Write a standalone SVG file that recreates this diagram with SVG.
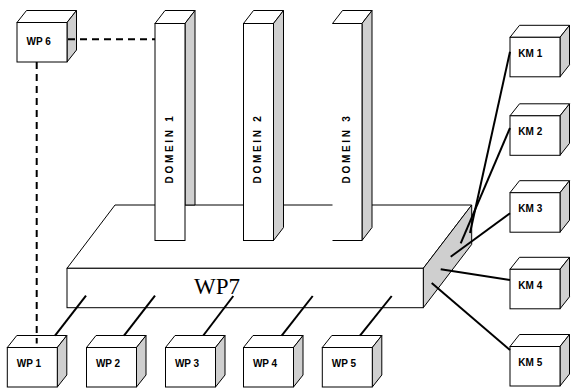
<svg xmlns="http://www.w3.org/2000/svg" xmlns:xlink="http://www.w3.org/1999/xlink" width="571" height="389" viewBox="0 0 571 389">
<style>
.f{fill:#fff;stroke:#000;stroke-width:1;stroke-linejoin:miter}
.g{fill:#cfcfcf;stroke:#000;stroke-width:1}
.nf{fill:#fff;stroke:none}
.ln{fill:none;stroke:#000;stroke-width:1}
.lab{font-family:"Liberation Sans",Arial,sans-serif;font-weight:bold;font-size:10px;fill:#000}
.dom{font-family:"Liberation Sans",Arial,sans-serif;font-weight:bold;font-size:10px;letter-spacing:2.7px;fill:#000}
.big{font-family:"Liberation Serif","Times New Roman",serif;font-size:23px;fill:#000}
.c{fill:none;stroke:#000;stroke-width:2}
.d{fill:none;stroke:#000;stroke-width:2;stroke-dasharray:7 5}
</style>
<defs>
<g id="box">
<polygon class="f" points="0,0 9.5,-12 59.5,-12 50,0"/>
<polygon class="g" points="50,0 59.5,-12 59.5,27.5 50,39.5"/>
<rect class="f" x="0" y="0" width="50" height="39.5"/>
</g>
</defs>
<rect width="571" height="389" fill="#fff"/>

<g id="wp7">
<polygon class="f" points="67,268.3 115,205 471.7,205 423.3,268.3"/>
<polygon class="g" points="423.3,268.3 471.7,205 471.7,244.4 423.3,307.7"/>
<rect class="f" x="67" y="268.3" width="356.3" height="39.4"/>
<text class="big" x="194" y="294">WP7</text>
</g>

<g id="domein1">
<polygon class="f" points="155,23.5 165,10.5 195,10.5 185,23.5"/>
<polygon class="g" points="185,23.5 195,10.5 195,205 185,205"/>
<rect class="f" x="155" y="23.5" width="30" height="217"/>
<text class="dom" transform="translate(173,183.5) rotate(-90)">DOMEIN 1</text>
</g>

<g id="domein2">
<polygon class="f" points="243.5,23.5 253.5,10.5 283.5,10.5 273.5,23.5"/>
<polygon class="g" points="273.5,23.5 283.5,10.5 283.5,227.5 273.5,240.5"/>
<rect class="f" x="243.5" y="23.5" width="30" height="217"/>
<text class="dom" transform="translate(261,183.5) rotate(-90)">DOMEIN 2</text>
</g>

<g id="domein3">
<polygon class="f" points="332.5,23.5 342.5,10.5 372,10.5 362,23.5"/>
<polygon class="g" points="362,23.5 372,10.5 372,227.5 362,240.5"/>
<rect class="nf" x="332.5" y="23.5" width="29.5" height="217"/>
<polyline class="ln" points="332.5,240.5 362,240.5 362,23.5 332.5,23.5"/>
<text class="dom" transform="translate(350,183.5) rotate(-90)">DOMEIN 3</text>
</g>

<g id="wp6"><use xlink:href="#box" href="#box" x="17" y="22.5"/><text class="lab" x="26.5" y="45">WP 6</text></g>

<g id="wp1"><use xlink:href="#box" href="#box" x="7.3" y="347.5"/><text class="lab" x="16.7" y="367.3">WP 1</text></g>
<g id="wp2"><use xlink:href="#box" href="#box" x="86.5" y="347.5"/><text class="lab" x="95.9" y="367.3">WP 2</text></g>
<g id="wp3"><use xlink:href="#box" href="#box" x="165.5" y="347.5"/><text class="lab" x="174.9" y="367.3">WP 3</text></g>
<g id="wp4"><use xlink:href="#box" href="#box" x="243.5" y="347.5"/><text class="lab" x="252.9" y="367.3">WP 4</text></g>
<g id="wp5"><use xlink:href="#box" href="#box" x="322.3" y="347.5"/><text class="lab" x="331.7" y="367.3">WP 5</text></g>

<g id="km1"><use xlink:href="#box" href="#box" x="510" y="37.3"/><text class="lab" x="518.3" y="56.7">KM 1</text></g>
<g id="km2"><use xlink:href="#box" href="#box" x="510" y="115.8"/><text class="lab" x="518.3" y="135.2">KM 2</text></g>
<g id="km3"><use xlink:href="#box" href="#box" x="510" y="192.7"/><text class="lab" x="518.3" y="212.1">KM 3</text></g>
<g id="km4"><use xlink:href="#box" href="#box" x="510" y="269.3"/><text class="lab" x="518.3" y="288.7">KM 4</text></g>
<g id="km5"><use xlink:href="#box" href="#box" x="510" y="346.5"/><text class="lab" x="518.3" y="365.9">KM 5</text></g>

<g id="connectors">
<line class="d" x1="68" y1="39.3" x2="155" y2="39.3"/>
<line class="d" x1="36.7" y1="62" x2="36.7" y2="343.5"/>
<line class="c" x1="55" y1="335.7" x2="86" y2="295.7"/>
<line class="c" x1="124" y1="335.7" x2="155" y2="295.7"/>
<line class="c" x1="203.3" y1="335.5" x2="233.3" y2="296"/>
<line class="c" x1="281.7" y1="335.7" x2="312.7" y2="296"/>
<line class="c" x1="360" y1="335.7" x2="391.7" y2="296"/>
<line class="c" x1="510" y1="51.7" x2="470" y2="233"/>
<line class="c" x1="510" y1="128" x2="460.7" y2="243.3"/>
<line class="c" x1="510" y1="213.3" x2="450.7" y2="256.7"/>
<line class="c" x1="510" y1="280" x2="440.7" y2="269.3"/>
<line class="c" x1="510" y1="350" x2="431.7" y2="283"/>
</g>
</svg>
